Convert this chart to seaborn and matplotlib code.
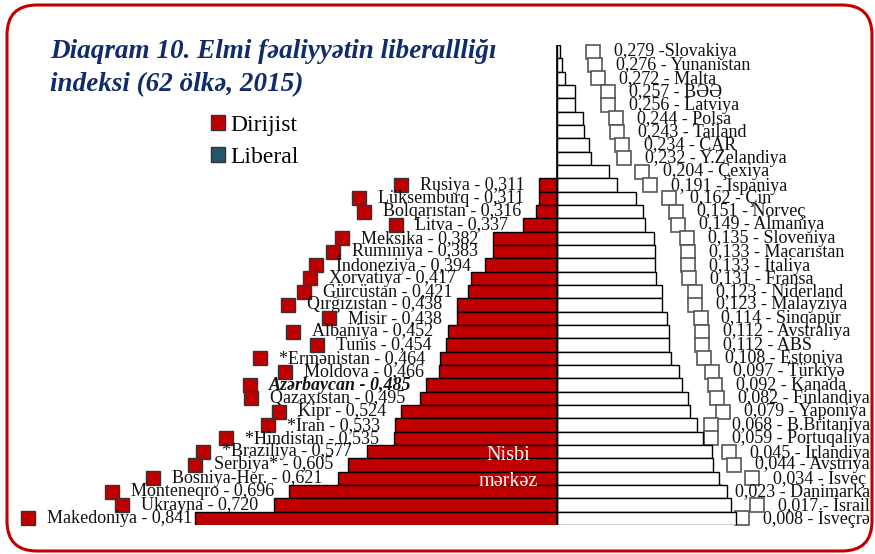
import numpy as np
import pandas as pd
import seaborn as sns
import matplotlib
matplotlib.use('Agg')
import matplotlib.pyplot as plt
from matplotlib.patches import FancyBboxPatch, Patch
from matplotlib.transforms import IdentityTransform

# liberal side (values below the relative centre), top to bottom
lib_countries = ["Slovakiya", "Yunanistan", "Malta", "BƏƏ", "Latviya", "Polsa", "Tailand",
                 "CAR", "Y.Zelandiya", "Çexiya", "İspaniya", "Çin", "Norveç", "Almaniya",
                 "Sloveniya", "Macarıstan", "İtaliya", "Fransa", "Niderland", "Malayziya",
                 "Sinqapur", "Avstraliya", "ABS", "Estoniya", "Türkiyə", "Kanada",
                 "Finlandiya", "Yaponiya", "B.Britaniya", "Portuqaliya", "İrlandiya",
                 "Avstriya", "İsveç", "Danimarka", "İsrail", "İsveçrə"]
lib_values = [0.279, 0.276, 0.272, 0.257, 0.256, 0.244, 0.243, 0.234, 0.232, 0.204, 0.191,
              0.162, 0.151, 0.149, 0.135, 0.133, 0.133, 0.131, 0.123, 0.123, 0.114, 0.112,
              0.112, 0.108, 0.097, 0.092, 0.082, 0.079, 0.068, 0.059, 0.045, 0.044, 0.034,
              0.023, 0.017, 0.008]

# dirijist side (values above the relative centre), top to bottom
dir_countries = ["Rusiya", "Lüksemburq", "Bolqarıstan", "Litva", "Meksika", "Rumıniya",
                 "İndoneziya", "Xorvatiya", "Gürcüstan", "Qırğızıstan", "Misir", "Albaniya",
                 "Tunis", "*Ermənistan", "Moldova", "Azərbaycan", "Qazaxıstan", "Kipr",
                 "*İran", "*Hindistan", "*Braziliya", "Serbiya*", "Bosniya-Her.",
                 "Monteneqro", "Ukrayna", "Makedoniya"]
dir_values = [0.311, 0.311, 0.316, 0.337, 0.382, 0.383, 0.394, 0.417, 0.421, 0.438, 0.438,
              0.452, 0.454, 0.464, 0.466, 0.485, 0.495, 0.524, 0.533, 0.535, 0.577, 0.605,
              0.621, 0.696, 0.720, 0.841]

center = 0.284  # "Nisbi mərkəz"

RED = "#c00000"
TEAL = "#215868"
NAVY = "#102c6b"

n_rows = len(lib_values)
first_dir = n_rows - len(dir_values)

df = pd.DataFrame({
    "row": list(range(n_rows)) + list(range(first_dir, n_rows)),
    "shift": [center - v for v in lib_values] + [center - v for v in dir_values],
    "group": ["Liberal"] * n_rows + ["Dirijist"] * len(dir_values),
})

W, H = 875, 554
fig = plt.figure(figsize=(W / 100, H / 100), dpi=100)
ax = fig.add_axes([0, 1 - 525 / H, 1, 480 / H])

sns.barplot(data=df, x="shift", y="row", hue="group", orient="h", dodge=False,
            palette={"Liberal": "white", "Dirijist": RED}, saturation=1,
            edgecolor="black", linewidth=1.0, width=1.0, legend=False, ax=ax, zorder=3)

scale = 650.0
ax.set_xlim(-557 / scale, (W - 557) / scale)
ax.set_ylim(n_rows - 0.5, -0.5)
ax.axis("off")
ax.plot([0, 0], [-0.5, n_rows - 0.5], color="black", lw=1.2, zorder=4)

fig.canvas.draw()
rend = fig.canvas.get_renderer()
inv = ax.transData.inverted()
lab_font = dict(family="Liberation Serif", fontsize=13, color="#111111")

# right-hand labels
for i, (c, v) in enumerate(zip(lib_countries, lib_values)):
    sep = " -" if i == 0 else " - "
    s = f"{v:.3f}".replace(".", ",") + sep + c
    t = ax.text(0, i, s, ha="left", va="center", zorder=2, **lab_font)
    w = t.get_window_extent(rend).width
    bx, by = ax.transData.transform((center - v, i))
    start = min(bx + 54, 870 - w)
    tx, ty = inv.transform((start, by))
    t.set_position((tx, ty))
    mx, _ = inv.transform((start - 21, by))
    ax.plot(mx, ty, marker="s", ms=10, mfc="white", mec="#555555", mew=1.2,
            clip_on=False, zorder=2)

# left-hand labels
for j, (c, v) in enumerate(zip(dir_countries, dir_values)):
    r = first_dir + j
    s = c + " - " + f"{v:.3f}".replace(".", ",")
    extra = {}
    if c == "Azərbaycan":
        extra = dict(fontweight="bold", fontstyle="italic")
    t = ax.text(0, r, s, ha="left", va="center", zorder=2, **lab_font, **extra)
    w = t.get_window_extent(rend).width
    bx, by = ax.transData.transform((center - v, r))
    start = max(bx - 15 - w, 47)
    tx, ty = inv.transform((start, by))
    t.set_position((tx, ty))
    mx, _ = inv.transform((start - 19, by))
    ax.plot(mx, ty, marker="s", ms=10, mfc=RED, mec="#333333", mew=1.0,
            clip_on=False, zorder=2)

# relative centre text
fig.text(508 / W, 1 - 455 / H, "Nisbi", color="white", ha="center", va="center",
         family="Liberation Serif", fontsize=14.5)
fig.text(508 / W, 1 - 481 / H, "mərkəz", color="white", ha="center", va="center",
         family="Liberation Serif", fontsize=14.5)

# title
tfont = dict(family="Liberation Serif", fontsize=19.5, fontweight="bold",
             fontstyle="italic", color=NAVY, ha="left", va="center")
fig.text(50 / W, 1 - 52 / H, "Diaqram 10. Elmi fəaliyyətin liberallliğı", **tfont)
fig.text(50 / W, 1 - 85 / H, "indeksi (62 ölkə, 2015)", **tfont)

# legend
handles = [Patch(facecolor=RED, edgecolor="#333333", label="Dirijist"),
           Patch(facecolor=TEAL, edgecolor="#333333", label="Liberal")]
fig.legend(handles=handles, loc="upper left", bbox_to_anchor=(211 / W, 1 - 115 / H),
           frameon=False, prop=dict(family="Liberation Serif", size=17),
           handlelength=0.6, handleheight=0.6, handletextpad=0.2, labelspacing=0.45,
           borderaxespad=0, borderpad=0)

# rounded red frame
frame = FancyBboxPatch((7, 3), 865, 546, boxstyle="round,pad=0,rounding_size=30",
                       transform=IdentityTransform(), fill=False, edgecolor=RED,
                       linewidth=2.2, zorder=10)
fig.patches.append(frame)

fig.savefig("out.png", dpi=100)
plt.close()
